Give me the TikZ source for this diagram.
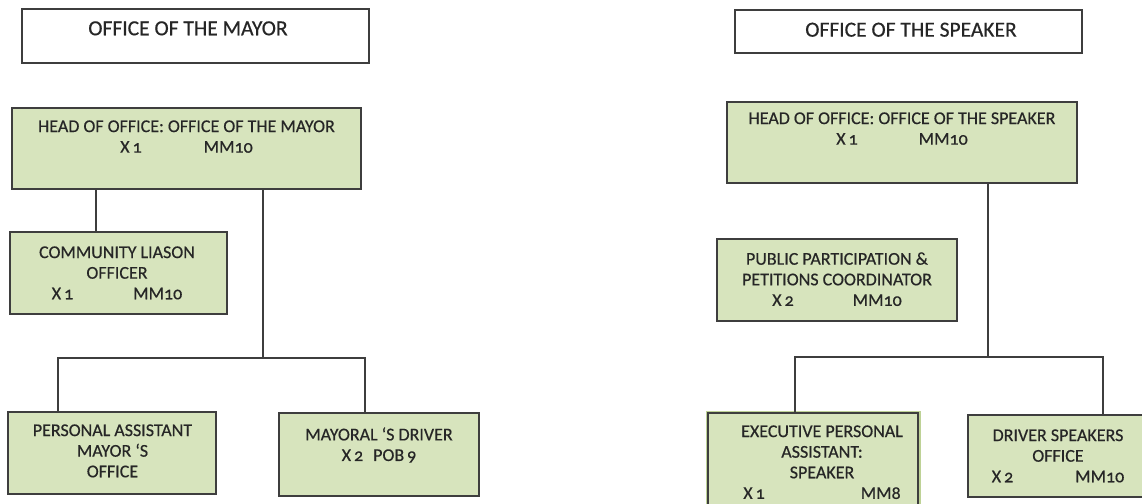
\documentclass[tikz,border=0pt]{standalone}
\usepackage{fontspec}
\setmainfont{Carlito}[Numbers=OldStyle,FakeBold=0.5]
\definecolor{boxfill}{RGB}{215,228,189}
\definecolor{boxline}{RGB}{62,62,62}
\definecolor{glow}{RGB}{190,210,150}
\definecolor{txt}{RGB}{38,38,38}
\begin{document}
\begin{tikzpicture}[x=1pt,y=-1pt,
  titlebox/.style={draw=boxline, line width=1.3pt, fill=white, inner sep=0pt},
  orgbox/.style={draw=boxline, line width=1.3pt, fill=boxfill, inner sep=0pt},
  lbl/.style={anchor=north, inner sep=0pt, align=center, text=txt,
              font=\fontsize{18}{20.6}\selectfont},
  ttl/.style={anchor=north, inner sep=0pt, align=center, text=txt,
              font=\fontsize{21.5}{24}\selectfont},
  link/.style={draw=boxline, line width=1.2pt}]
\clip (0,0) rectangle (1142,503);
\fill[white] (0,0) rectangle (1142,503);

% ---------- Office of the Mayor ----------
\node[titlebox, minimum width=347pt, minimum height=54pt] (mayor) at (195.5,36) {};
\node[ttl] (mayorT) at (188,21.1) {OFFICE OF THE MAYOR};

\node[orgbox, minimum width=349pt, minimum height=81pt] (headM) at (186.5,148.5) {};
\node[lbl] (headMT) at (186.5,120.2) {HEAD OF OFFICE: OFFICE OF THE MAYOR\\X\,1\hspace{62pt}MM10};

\node[orgbox, minimum width=217pt, minimum height=82pt] (comm) at (118.5,273) {};
\node[lbl] (commT) at (117,246.2) {COMMUNITY LIASON\\OFFICER\\X\,1\hspace{60pt}MM10};

\node[orgbox, minimum width=208pt, minimum height=82pt] (pa) at (112,453) {};
\node[lbl] (paT) at (112.5,424.2) {PERSONAL ASSISTANT\\MAYOR ‘S\\OFFICE};

\node[orgbox, minimum width=200pt, minimum height=83pt] (drvM) at (379,454.5) {};
\node[lbl] (drvMT) at (379,427.2) {MAYORAL ‘S DRIVER\\X\,2\hspace{10pt}POB\,9};

% mayor connectors
\coordinate (xComm) at (96,0);
\coordinate (jM) at (263,358);
\coordinate (xPA) at (58,0);
\coordinate (xDrvM) at (365,0);
\draw[link] (headM.south -| xComm) -- (comm.north -| xComm);
\draw[link] (headM.south -| jM) -- (jM);
\draw[link] (pa.north -| xPA) |- (jM);
\draw[link] (drvM.north -| xDrvM) |- (jM);

% ---------- Office of the Speaker ----------
\node[titlebox, minimum width=347pt, minimum height=43pt] (speaker) at (908.5,31.5) {};
\node[ttl] (speakerT) at (911,22.5) {OFFICE OF THE SPEAKER};

\node[orgbox, minimum width=350pt, minimum height=81pt] (headS) at (902,142.5) {};
\node[lbl] (headST) at (902,112.2) {HEAD OF OFFICE: OFFICE OF THE SPEAKER\\X\,1\hspace{61pt}MM10};

\node[orgbox, minimum width=240pt, minimum height=82pt] (pub) at (837,280) {};
\node[lbl] (pubT) at (837,252.2) {PUBLIC PARTICIPATION \&\\PETITIONS COORDINATOR\\X\,2\hspace{59pt}MM10};

\node[orgbox, minimum width=210pt, minimum height=107pt,
      preaction={draw=glow, line width=5pt}] (exec) at (813,466.5) {};
\node[lbl] (execT) at (822,425.2) {EXECUTIVE PERSONAL\\ASSISTANT:\\SPEAKER\\X\,1\hspace{96pt}MM8};

\node[orgbox, minimum width=192pt, minimum height=82pt] (drvS) at (1064,456) {};
\node[lbl] (drvST) at (1058,429.2) {DRIVER SPEAKERS\\OFFICE\\X\,2\hspace{62pt}MM10};

% speaker connectors
\coordinate (jS) at (988,357);
\coordinate (xExec) at (795,0);
\coordinate (xDrvS) at (1103,0);
\draw[link] (headS.south -| jS) -- (jS);
\draw[link] (exec.north -| xExec) |- (jS);
\draw[link] (drvS.north -| xDrvS) |- (jS);
\end{tikzpicture}
\end{document}
